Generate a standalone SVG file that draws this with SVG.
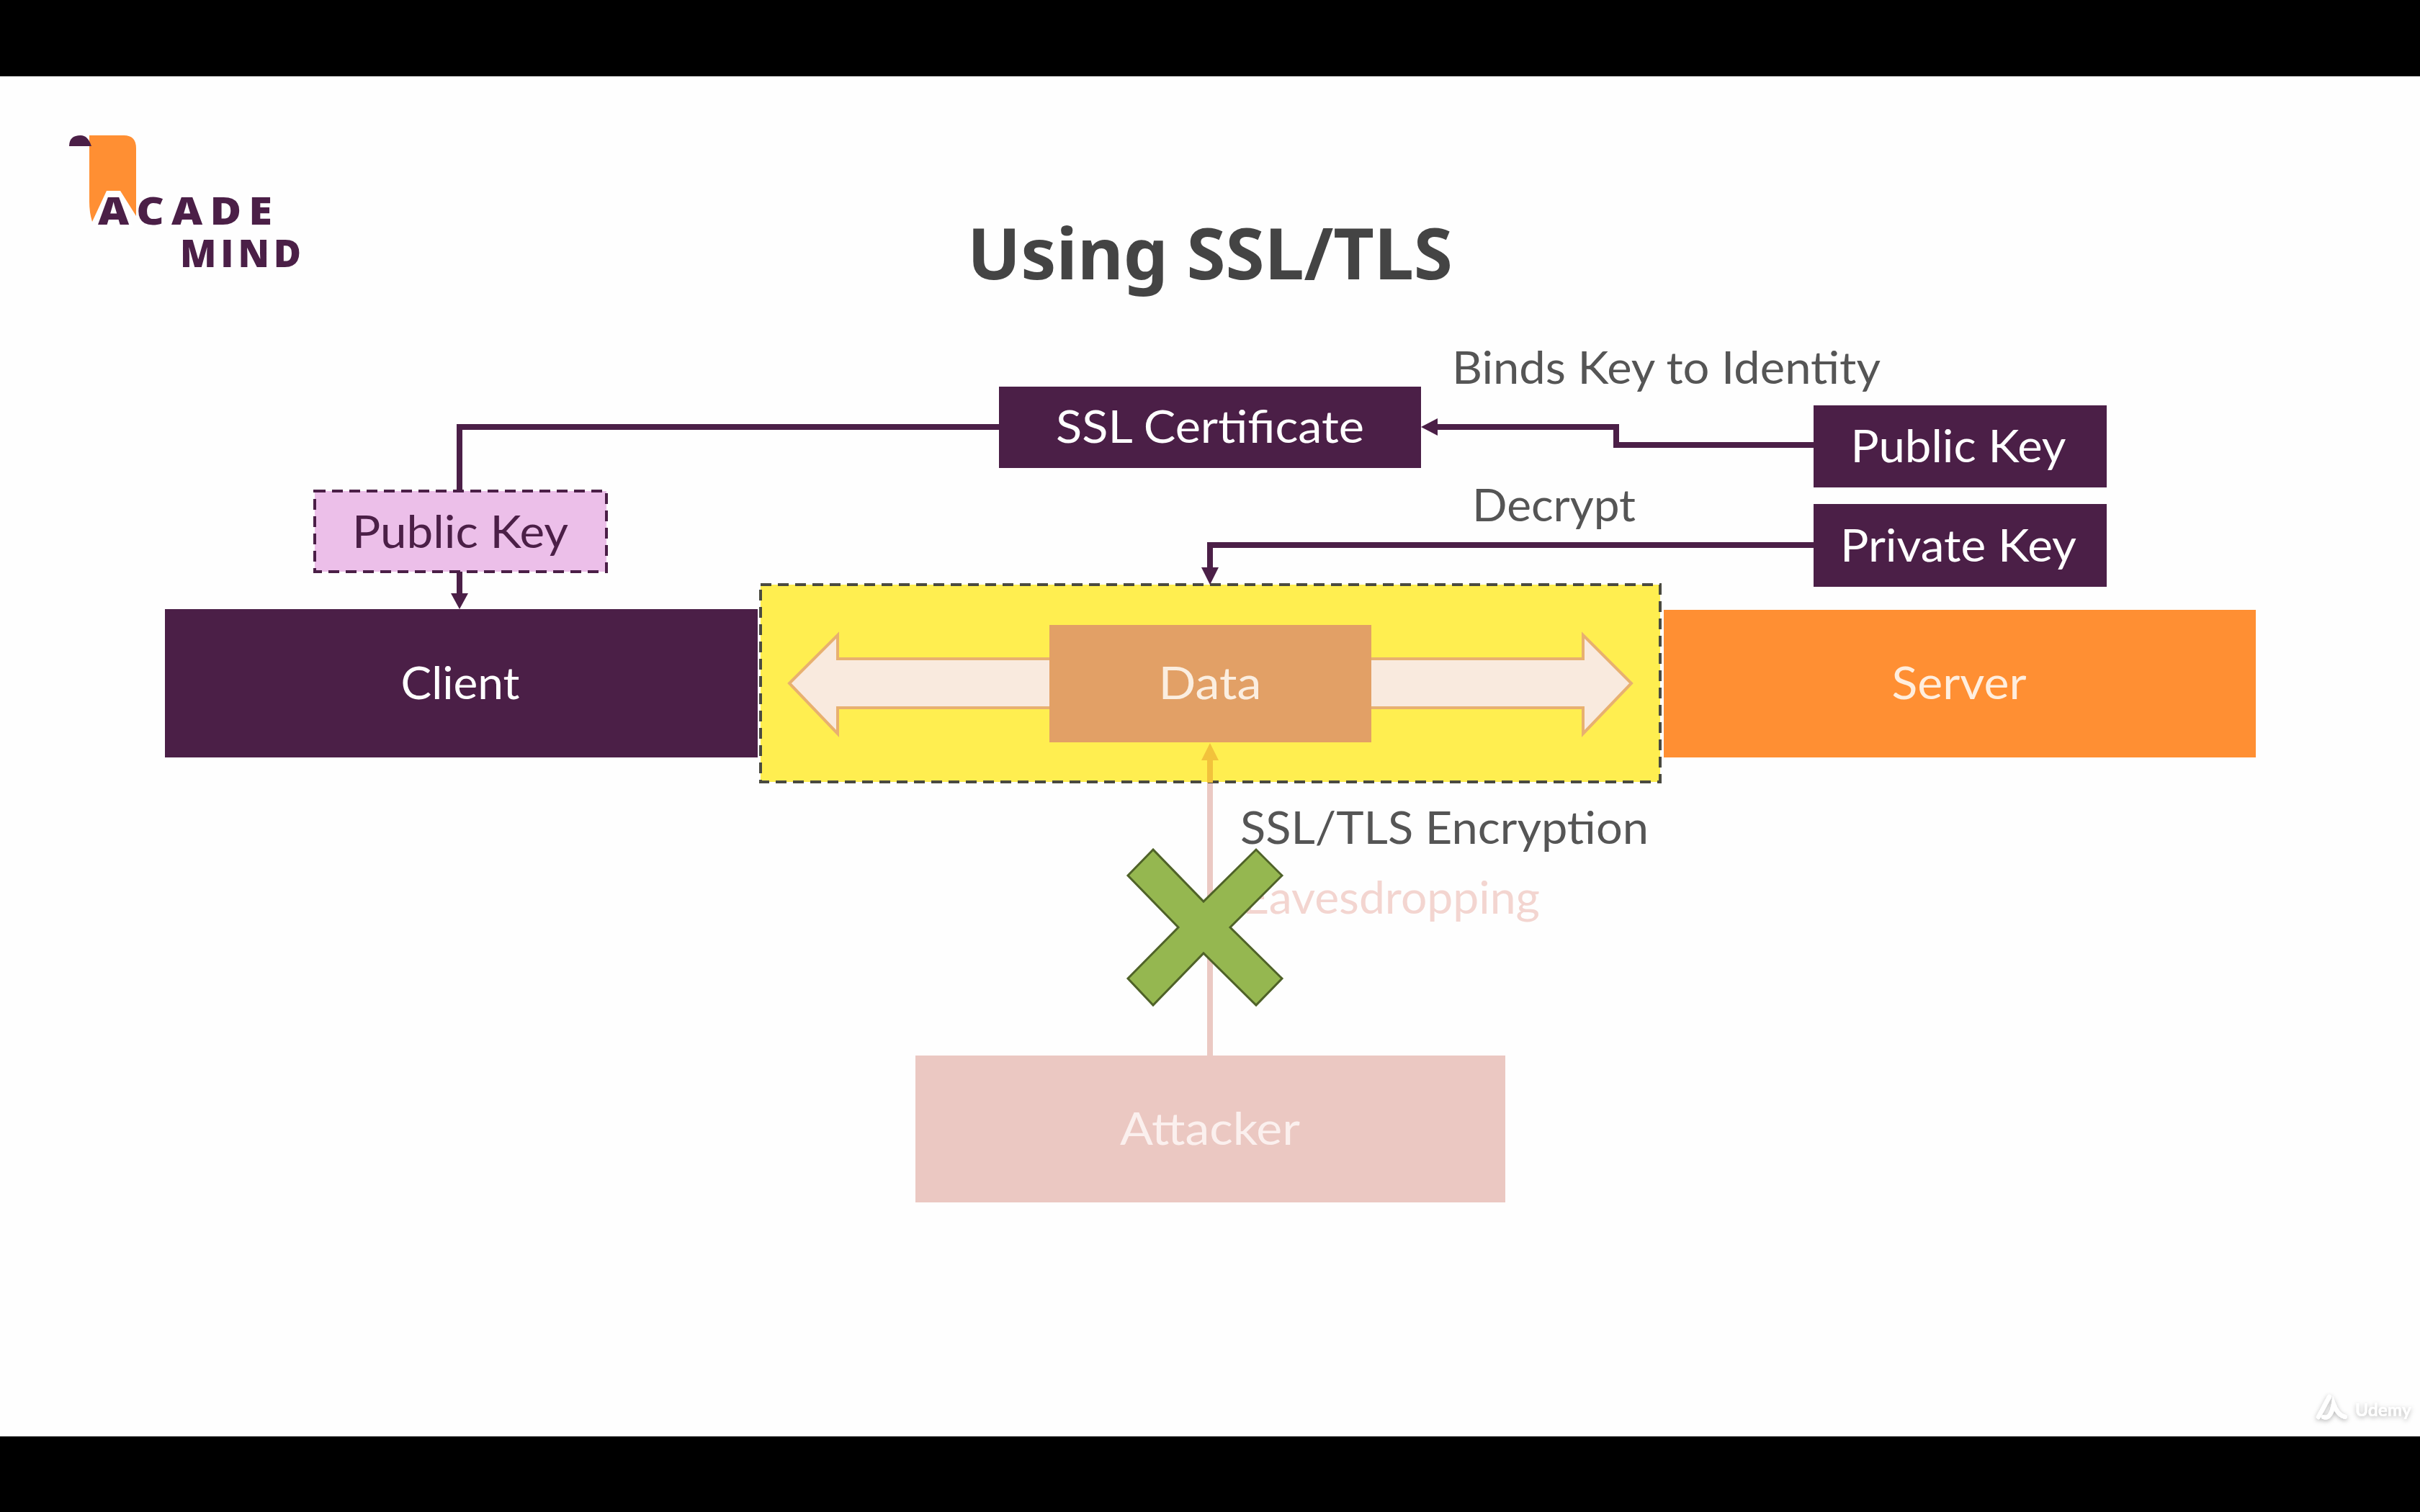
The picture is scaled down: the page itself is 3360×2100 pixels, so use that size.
<svg xmlns="http://www.w3.org/2000/svg" width="3360" height="2100" viewBox="0 0 3360 2100">
<defs>
<style>
text{font-family:"Lato","Liberation Sans",sans-serif;font-size:62px;text-anchor:middle}
.wh{fill:#fff}.dk{fill:#4b1f47}.gr{fill:#555;text-anchor:start}
.logo{font-family:"Open Sans","Liberation Sans",sans-serif;font-weight:800;font-size:53px;fill:#4b1f47;text-anchor:start}
.con{fill:none;stroke:#4b1f47;stroke-width:8}
.head{fill:#4b1f47}
</style>
<filter id="soft" x="-20%" y="-20%" width="140%" height="150%"><feDropShadow dx="0" dy="2" stdDeviation="3" flood-color="#000" flood-opacity=".3"/></filter>
</defs>
<rect width="3360" height="2100" fill="#000"/>
<rect y="106" width="3360" height="1889" fill="#fefefe"/>
<g id="logo">
<path d="M124 188H172Q189 188 189 206V300L167 265H148L128 308Q124 295 124 280Z" fill="#ff8f33"/>
<path d="M96 203Q96 188 112 188Q122 188 127 203Z" fill="#4b1f47"/>
<text class="logo" x="136" y="312" letter-spacing="9" textLength="252" lengthAdjust="spacingAndGlyphs" style="stroke:#fff;stroke-width:6;paint-order:stroke">ACADE</text>
<text class="logo" x="250" y="371" letter-spacing="6" textLength="174" lengthAdjust="spacingAndGlyphs">MIND</text>
</g>
<g id="title"><text x="1680" y="388" textLength="674" lengthAdjust="spacingAndGlyphs" style="font-family:'Noto Sans','Open Sans',sans-serif;font-weight:700;font-size:98px;fill:#444">Using SSL/TLS</text></g>
<g id="attacker-connector"><path d="M1680 1466V1087" fill="none" stroke="#ebc9c3" stroke-width="8"/></g>
<g id="tunnel"><rect x="1056" y="812" width="1249" height="274" fill="#ffee50" stroke="#4a4a40" stroke-width="4" stroke-dasharray="15 9"/></g>
<g id="connectors">
<path d="M1680 1087V1050" stroke="#f2c23c" stroke-width="8" fill="none"/>
<path d="M1680 1032L1668 1056H1692Z" fill="#f2c23c"/>
<path class="con" d="M1387 593H638V682M638 794V826"/>
<path class="head" d="M638 846L626 824H650Z"/>
<path class="con" d="M2518 618H2244V593H1990"/>
<path class="head" d="M1973 593L1996 581V605Z"/>
<path class="con" d="M2518 757H1680V790"/>
<path class="head" d="M1680 812L1668 788H1692Z"/>
</g>
<g id="data-arrow"><path d="M1096 949L1163 882V915H2198V882L2265 949L2198 1019V983H1163V1019Z" fill="#f9eade" stroke="#e8b070" stroke-width="4"/></g>
<g id="client"><rect x="229" y="846" width="823" height="206" fill="#4b1f47"/><text class="wh" x="639" y="971" textLength="165" lengthAdjust="spacingAndGlyphs">Client</text></g>
<g id="data"><rect x="1457" y="868" width="447" height="163" fill="#e2a066"/><text x="1680" y="971" fill="#fbeee0" textLength="143" lengthAdjust="spacingAndGlyphs">Data</text></g>
<g id="server"><rect x="2310" y="847" width="822" height="205" fill="#ff8f33"/><text x="2720" y="971" fill="#ffeede" textLength="187" lengthAdjust="spacingAndGlyphs">Server</text></g>
<g id="ssl-certificate"><rect x="1387" y="537" width="586" height="113" fill="#4b1f47"/><text class="wh" x="1680" y="615" textLength="428" lengthAdjust="spacingAndGlyphs">SSL Certificate</text></g>
<g id="public-key-server"><rect x="2518" y="563" width="407" height="114" fill="#4b1f47"/><text class="wh" x="2719" y="642" textLength="299" lengthAdjust="spacingAndGlyphs">Public Key</text></g>
<g id="private-key"><rect x="2518" y="700" width="407" height="115" fill="#4b1f47"/><text class="wh" x="2719" y="780" textLength="328" lengthAdjust="spacingAndGlyphs">Private Key</text></g>
<g id="public-key-client"><rect x="437" y="682" width="405" height="112" fill="#ecbfe9" stroke="#4b1f47" stroke-width="4" stroke-dasharray="15 9"/><text class="dk" x="639" y="761" textLength="300" lengthAdjust="spacingAndGlyphs">Public Key</text></g>
<g id="labels">
<text class="gr" x="2016" y="533" textLength="595" lengthAdjust="spacingAndGlyphs">Binds Key to Identity</text>
<text class="gr" x="2044" y="724" textLength="227" lengthAdjust="spacingAndGlyphs">Decrypt</text>
<text class="gr" x="1722" y="1172" textLength="567" lengthAdjust="spacingAndGlyphs">SSL/TLS Encryption</text>
<text x="1725" y="1269" fill="#f3d5d0" style="text-anchor:start" textLength="413" lengthAdjust="spacingAndGlyphs">Eavesdropping</text>
</g>
<g id="attacker"><rect x="1271" y="1466" width="819" height="204" fill="#ebc8c2"/><text x="1680" y="1590" fill="#fbf0ee" textLength="250" lengthAdjust="spacingAndGlyphs">Attacker</text></g>
<g id="cross"><path d="M1601 1180L1566 1216L1636 1288L1566 1359L1601 1396L1671 1324L1744 1396L1780 1359L1708 1288L1780 1216L1744 1180L1671 1252Z" fill="#95b750" stroke="#4f6228" stroke-width="3"/></g>
<g id="watermark" filter="url(#soft)">
<path d="M3219 1968L3234 1940M3226 1968Q3236 1972 3240 1950Q3246 1966 3256 1968" fill="none" stroke="#fff" stroke-width="6" stroke-linecap="round"/>
<text x="3270" y="1967" textLength="78" lengthAdjust="spacingAndGlyphs" style="text-anchor:start;font-size:24px;font-weight:700;fill:#fff">Udemy</text>
</g>
</svg>
